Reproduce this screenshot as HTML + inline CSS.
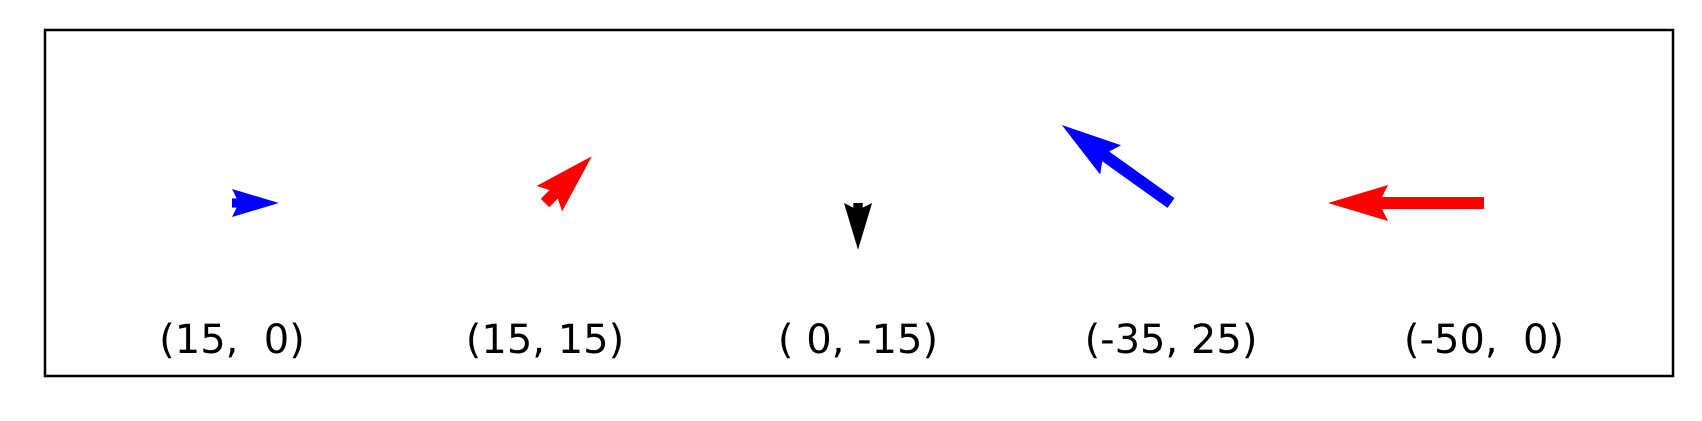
<!DOCTYPE html>
<html><head><meta charset="utf-8"><style>
body{margin:0;background:#fff;}
svg{display:block;}
text{font-family:"DejaVu Sans","Liberation Sans",sans-serif;font-size:40px;white-space:pre;fill:#000;}
</style></head><body>
<svg id="chart" width="1702" height="421" viewBox="0 0 1702 421" xmlns="http://www.w3.org/2000/svg">
<rect x="45" y="30" width="1628" height="346" fill="none" stroke="#000" stroke-width="2.5"/>
<g id="arrows"></g>
</svg>
<script>
const uVals = [15, 15, 0, -35, -50];
const vVals = [0, 15, -15, 25, 0];
const arrowColors = ['blue', 'red', 'black', 'blue', 'red'];
const labelTexts = ['(15,  0)', '(15, 15)', '( 0, -15)', '(-35, 25)', '(-50,  0)'];

const NS = 'http://www.w3.org/2000/svg';
const g = document.getElementById('arrows');
const x0 = 232, dxSlot = 313, yAnchor = 203, scale = 3.12, w = 12;
function xPos(i){ return x0 + i * dxSlot; }

uVals.forEach((u, i) => {
  const v = vVals[i];
  const tx = xPos(i), ty = yAnchor;
  const len = Math.hypot(u, v) * scale / w;
  let pts;
  if (len >= 5) {
    pts = [[0,-0.5],[len-4.5,-0.5],[len-5,-1.5],[len,0],[len-5,1.5],[len-4.5,0.5],[0,0.5]];
  } else {
    const s = len / 5;
    pts = [[0,-0.5],[0.5,-0.5],[0,-1.5],[5,0],[0,1.5],[0.5,0.5],[0,0.5]].map(p => [p[0]*s, p[1]*s]);
  }
  const ang = Math.atan2(-v, u);
  const c = Math.cos(ang), sn = Math.sin(ang);
  const d = pts.map(p => {
    const px = p[0]*w, py = p[1]*w;
    return (tx + px*c - py*sn).toFixed(2) + ',' + (ty + px*sn + py*c).toFixed(2);
  }).join(' ');
  const poly = document.createElementNS(NS, 'polygon');
  poly.setAttribute('points', d);
  poly.setAttribute('fill', arrowColors[i]);
  
  
  g.appendChild(poly);

  const t = document.createElementNS(NS, 'text');
  t.setAttribute('x', tx);
  t.setAttribute('y', 353);
  t.setAttribute('text-anchor', 'middle');
  t.textContent = labelTexts[i];
  
  
  g.appendChild(t);
});
</script>
</body></html>
